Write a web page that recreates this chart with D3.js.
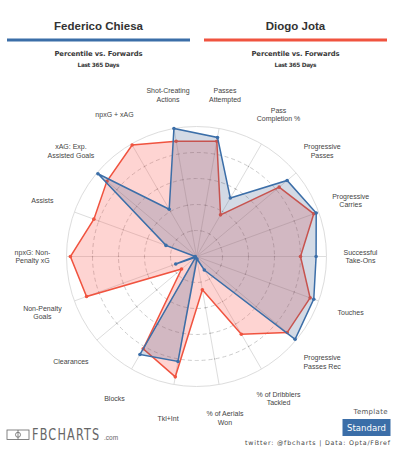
<!DOCTYPE html>
<html>
<head>
<meta charset="utf-8">
<style>
body { margin: 0; background: white; }
text { font-family: "Liberation Sans", Arial, sans-serif; }
.vs { font-family: "DejaVu Sans", Verdana, sans-serif; }
</style>
</head>
<body>
<script src="https://cdn.jsdelivr.net/npm/d3@7"></script>
<script>
var width = 394,
    height = 450;

// players
var players = ["Federico Chiesa", "Diogo Jota"];
var colors = ["#3b6ea8", "#f0533f"];

// axes, clockwise starting just right of 12 o'clock
var metrics = [
  "Passes\nAttempted", "Pass\nCompletion %", "Progressive\nPasses", "Progressive\nCarries",
  "Successful\nTake-Ons", "Touches", "Progressive\nPasses Rec", "% of Dribblers\nTackled",
  "% of Aerials\nWon", "Tkl+Int", "Blocks", "Clearances", "Non-Penalty\nGoals",
  "npxG: Non-\nPenalty xG", "Assists", "xAG: Exp.\nAssisted Goals", "npxG + xAG",
  "Shot-Creating\nActions"
];

// percentiles
var chiesa = [93, 52, 91, 98, 92, 96, 99, 12, 2, 82, 87, 1, 17, 1, 25, 99, 42, 100];
var jota   = [90, 37, 83, 96, 80, 93, 91, 69, 26, 94, 82, 15, 90, 97, 84, 90, 99, 90];

var rings = [20, 40, 60, 80, 100];

var cx = 196.5, cy = 256.5, R = 130;

var svg = d3.select("body").append("svg")
    .attr("width", width)
    .attr("height", height);

// header
var header = svg.append("g");
players.forEach(function(p, i) {
  var x0 = i == 0 ? 7 : 204, x1 = i == 0 ? 190 : 387, mid = (x0 + x1) / 2;
  header.append("text")
    .attr("x", mid).attr("y", 30)
    .attr("text-anchor", "middle")
    .style("font-size", "11.5px").style("font-weight", "bold").style("fill", "#333")
    .text(p);
  header.append("rect")
    .attr("x", x0).attr("y", 38.5).attr("width", x1 - x0).attr("height", 3)
    .attr("fill", colors[i]);
  header.append("text").attr("class", "vs")
    .attr("x", mid).attr("y", 55.5)
    .attr("text-anchor", "middle")
    .attr("textLength", 88).attr("lengthAdjust", "spacing")
    .style("font-size", "6.8px").style("font-weight", "bold").style("fill", "#3a3a3a")
    .text("Percentile vs. Forwards");
  header.append("text").attr("class", "vs")
    .attr("x", mid).attr("y", 67.3)
    .attr("text-anchor", "middle")
    .attr("textLength", 42).attr("lengthAdjust", "spacing")
    .style("font-size", "5.8px").style("font-weight", "bold").style("fill", "#3a3a3a")
    .text("Last 365 Days");
});

var n = metrics.length;
var angle = d3.scaleLinear().domain([0, n]).range([Math.PI / n, Math.PI / n + 2 * Math.PI]);
var r = d3.scaleLinear().domain([0, 100]).range([0, R]);

var g = svg.append("g").attr("transform", "translate(" + cx + "," + cy + ")");

// grid rings
g.selectAll("circle.ring")
  .data(rings)
  .enter().append("circle")
  .attr("class", "ring")
  .attr("r", function(d) { return r(d); })
  .attr("fill", "none")
  .attr("stroke", function(d) { return d == 100 ? "#ddd" : "#ccc"; })
  .attr("stroke-width", 1)
  .attr("stroke-dasharray", function(d) { return d == 100 ? null : "4,3"; });

// spokes
g.selectAll("line.spoke")
  .data(metrics)
  .enter().append("line")
  .attr("x1", 0).attr("y1", 0)
  .attr("x2", function(d, i) { return r(100) * Math.sin(angle(i)); })
  .attr("y2", function(d, i) { return -r(100) * Math.cos(angle(i)); })
  .attr("stroke", "#ddd")
  .attr("stroke-width", 1);

// small ticks on spokes
var ticks = [];
metrics.forEach(function(m, i) { rings.slice(0, 4).forEach(function(v) { ticks.push([i, v]); }); });
g.selectAll("circle.tick")
  .data(ticks)
  .enter().append("circle")
  .attr("cx", function(d) { return r(d[1]) * Math.sin(angle(d[0])); })
  .attr("cy", function(d) { return -r(d[1]) * Math.cos(angle(d[0])); })
  .attr("r", 0.7)
  .attr("fill", "#aaa");

// series
var radial = d3.lineRadial()
  .angle(function(d, i) { return angle(i); })
  .radius(function(d) { return r(d); })
  .curve(d3.curveLinearClosed);

var fills = ["rgba(55,85,135,0.22)", "rgba(250,90,80,0.26)"];
[jota, chiesa].forEach(function(vals) {
  var k = vals === chiesa ? 0 : 1;
  g.append("path")
    .attr("d", radial(vals))
    .attr("fill", fills[k])
    .attr("stroke", colors[k])
    .attr("stroke-width", 1.5)
    .attr("stroke-linejoin", "miter");
  g.selectAll("circle.pt" + k)
    .data(vals)
    .enter().append("circle")
    .attr("class", "pt" + k)
    .attr("cx", function(d, i) { return r(d) * Math.sin(angle(i)); })
    .attr("cy", function(d, i) { return -r(d) * Math.cos(angle(i)); })
    .attr("r", 1.8)
    .attr("fill", colors[k]);
});

// axis labels
var labelR = 164;
g.selectAll("text.label")
  .data(metrics)
  .enter().append("text")
  .attr("class", "label")
  .attr("text-anchor", "middle")
  .style("font-size", "7px")
  .style("fill", "#444")
  .each(function(d, i) {
    var lines = d.split("\n");
    var x = labelR * Math.sin(angle(i)),
        y = -labelR * Math.cos(angle(i));
    var lh = 8.8;
    var y0 = y - (lines.length - 1) * lh / 2 + 2.5;
    d3.select(this).selectAll("tspan")
      .data(lines)
      .enter().append("tspan")
      .attr("x", x)
      .attr("y", function(l, j) { return y0 + j * lh; })
      .text(function(l) { return l; });
  });

// footer
var foot = svg.append("g");
foot.append("text").attr("class", "vs")
  .attr("x", 387.5).attr("y", 414).attr("text-anchor", "end")
  .attr("textLength", 34).attr("lengthAdjust", "spacing")
  .style("font-size", "7px").style("fill", "#555")
  .text("Template");
foot.append("rect")
  .attr("x", 342.5).attr("y", 419).attr("width", 48).attr("height", 17)
  .attr("fill", "#3b6ea8");
foot.append("text").attr("class", "vs")
  .attr("x", 366.5).attr("y", 430.8).attr("text-anchor", "middle")
  .attr("textLength", 39).attr("lengthAdjust", "spacing")
  .style("font-size", "8.5px").style("fill", "white")
  .text("Standard");
foot.append("text").attr("class", "vs")
  .attr("x", 390).attr("y", 445).attr("text-anchor", "end")
  .attr("textLength", 145).attr("lengthAdjust", "spacing")
  .style("font-size", "6.3px").style("fill", "#444")
  .text("twitter: @fbcharts | Data: Opta/FBref");

// logo
var logo = foot.append("g");
logo.append("rect").attr("x", 7).attr("y", 430).attr("width", 22).attr("height", 9.5)
  .attr("fill", "none").attr("stroke", "#666").attr("stroke-width", 0.8);
logo.append("line").attr("x1", 18).attr("x2", 18).attr("y1", 430).attr("y2", 439.5)
  .attr("stroke", "#666").attr("stroke-width", 0.8);
logo.append("circle").attr("cx", 18).attr("cy", 434.75).attr("r", 2.5)
  .attr("fill", "none").attr("stroke", "#666").attr("stroke-width", 0.8);
logo.append("g")
  .attr("transform", "translate(32,440) scale(1,1.2)")
  .append("text")
  .attr("x", 0).attr("y", 0)
  .style("font-family", "'DejaVu Sans Condensed', 'DejaVu Sans', sans-serif")
  .style("font-size", "12.5px").style("letter-spacing", "1.2px").style("fill", "#666")
  .text("FBCHARTS");
logo.append("text")
  .attr("x", 104).attr("y", 440)
  .style("font-size", "6.5px").style("fill", "#666")
  .text(".com");
</script>
</body>
</html>
